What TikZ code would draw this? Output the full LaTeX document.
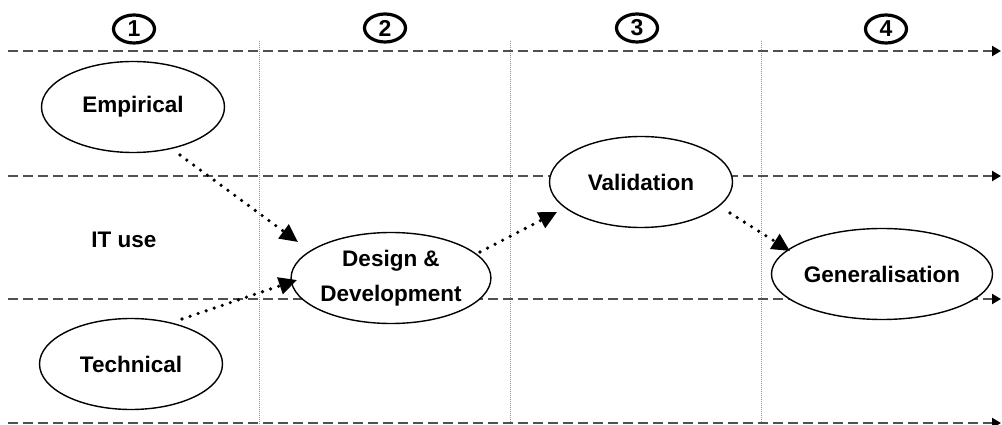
\documentclass[tikz,border=0pt]{standalone}
\usepackage{fontspec}
\setmainfont{Liberation Sans}
\usetikzlibrary{arrows.meta,shapes.geometric,calc}
\definecolor{lanegray}{RGB}{80,80,80}
\definecolor{phaseline}{RGB}{222,125,55}
\tikzset{
  lane/.style={draw=lanegray, line width=2pt, dash pattern=on 10pt off 5pt,
    -{Triangle[length=9pt,width=10pt,fill=black,color=black]}},
  phase/.style={draw=phaseline, line width=1pt, dash pattern=on 1pt off 1pt},
  activity/.style={ellipse, draw=black, line width=1.4pt, fill=white,
    minimum width=183pt, minimum height=91pt, inner sep=0pt,
    font=\fontsize{22.5}{35}\selectfont\bfseries, align=center},
  stepno/.style={ellipse, draw=black, line width=3.2pt, minimum width=41pt,
    minimum height=28pt, inner sep=0pt, font=\fontsize{23}{24}\selectfont\bfseries},
  flow/.style={line width=3.6pt, line cap=round, dash pattern=on 0pt off 8.5pt,
    -{Triangle[length=18pt,width=17pt]}},
  lbl/.style={font=\fontsize{22.5}{26}\selectfont\bfseries}
}
\begin{document}
\begin{tikzpicture}[x=1pt,y=-1pt]
\useasboundingbox (0,0) rectangle (1002,425);
% phase separators
\foreach \x in {259,510,761}
  \draw[phase] (\x,41) -- (\x,425);
% swim-lane boundaries
\foreach \y in {51,176,299,423}
  \draw[lane] (8,\y) -- (1001,\y);
% phase numbers
\node[stepno] (n1) at (134,29) {1};
\node[stepno] (n2) at (385,28) {2};
\node[stepno] (n3) at (637,28) {3};
\node[stepno] (n4) at (886,29) {4};
% lane label
\node[lbl] (it) at (124,240) {IT use};
% activities
\node[activity] (emp) at (133,107) {Empirical};
\node[activity] (tech) at (131,364) {Technical};
\node[activity] (dd) at (391,278) {Design \&\\Development};
\node[activity] (val) at (641,182) {Validation};
\node[activity] (gen) at (882,274) {Generalisation};
% flows between activities
\draw[flow] ($(emp)+(47,48)$) -- ($(dd)+(-93,-36)$);
\draw[flow] ($(tech)+(51,-45)$) -- ($(dd)+(-94,2)$);
\draw[flow] ($(dd)+(89,-26)$) -- ($(val)+(-84,30)$);
\draw[flow] ($(val)+(89,31)$) -- ($(gen)+(-92,-23)$);
\end{tikzpicture}
\end{document}
